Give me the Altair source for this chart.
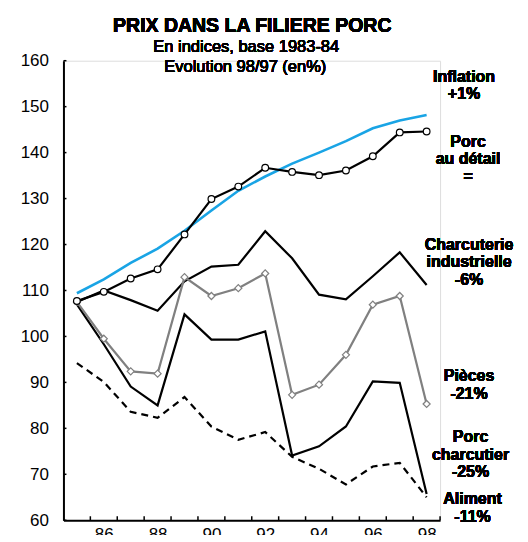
import altair as alt
import pandas as pd

# ---------------- data ----------------
years = list(range(85, 99))
inflation = [109.4, 112.4, 116.0, 119.1, 123.0, 127.4, 131.7, 134.8, 137.6, 140.0, 142.5, 145.3, 147.0, 148.2]
porc_detail = [107.7, 109.7, 112.6, 114.6, 122.2, 129.9, 132.6, 136.7, 135.8, 135.1, 136.1, 139.2, 144.4, 144.6]
charcuterie = [107.5, 110.0, 107.9, 105.6, 112.0, 115.2, 115.6, 122.9, 117.0, 109.1, 108.1, 113.1, 118.3, 111.2]
pieces = [107.5, 99.5, 92.4, 91.9, 112.9, 108.8, 110.5, 113.7, 87.3, 89.5, 96.0, 106.9, 108.8, 85.3]
porc_charcutier = [107.0, 98.3, 89.1, 85.0, 104.8, 99.3, 99.3, 101.1, 74.1, 76.1, 80.4, 90.2, 89.9, 65.7]
aliment = [94.2, 90.1, 83.6, 82.3, 86.8, 80.4, 77.5, 79.2, 73.8, 71.2, 67.8, 71.7, 72.5, 65.0]

y_ticks = list(range(60, 161, 10))
x_labels = [86, 88, 90, 92, 94, 96, 98]

title = "PRIX DANS LA FILIERE PORC"
subtitle = ["En indices, base 1983-84", "Evolution 98/97 (en%)"]

label_texts = [
    ["Inflation", "+1%"],
    ["Porc", "au détail", "="],
    ["Charcuterie", "industrielle", "-6%"],
    ["Pièces", "-21%"],
    ["Porc", "charcutier", "-25%"],
    ["Aliment", "-11%"],
]

# ---------------- layout / style ----------------
W, H = 377, 460
FONT = "Liberation Sans"
label_pos = [(401, 21), (405, 86), (406, 189), (406, 320.5), (407.5, 381.5), (409.5, 444)]

series_styles = [
    (inflation, "#19A4E5", 2.6, None),
    (charcuterie, "black", 2.2, None),
    (porc_charcutier, "black", 2.2, None),
    (aliment, "black", 2.2, [7, 5]),
    (pieces, "#808080", 2.2, None),
    (porc_detail, "black", 2.2, None),
]

xs = alt.Scale(domain=[84.5, 98.5], nice=False, zero=False)
ys = alt.Scale(domain=[60, 160], nice=False, zero=False)

x_axis = alt.Axis(values=x_labels, format="d", title=None, tickSize=0, labelPadding=6,
                  labelFontSize=17, labelColor="black", domainColor="black",
                  domainWidth=2, grid=False, labelFont=FONT, labelFontWeight="normal")
y_axis = alt.Axis(values=y_ticks, title=None, tickSize=0, labelPadding=15,
                  labelFontSize=17, labelColor="black", domainColor="black",
                  domainWidth=2, grid=False, labelFont=FONT, labelFontWeight="normal")


def X(field):
    return alt.X(field, scale=xs, axis=x_axis)


def Y(field):
    return alt.Y(field, scale=ys, axis=y_axis)


layers = []
for vals, color, sw, dash in series_styles:
    df = pd.DataFrame({"year": years, "value": vals})
    kw = dict(color=color, strokeWidth=sw)
    if dash:
        kw["strokeDash"] = dash
    layers.append(alt.Chart(df).mark_line(**kw).encode(x=X("year:Q"), y=Y("value:Q")))

# markers
df_det = pd.DataFrame({"year": years, "value": porc_detail})
df_pie = pd.DataFrame({"year": years, "value": pieces})
layers.append(alt.Chart(df_pie).mark_point(shape="diamond", filled=True, fill="white",
                                            stroke="#808080", strokeWidth=1.2, size=50, opacity=1)
              .encode(x=X("year:Q"), y=Y("value:Q")))
layers.append(alt.Chart(df_det).mark_point(shape="circle", filled=True, fill="white",
                                            stroke="black", strokeWidth=1.2, size=45, opacity=1)
              .encode(x=X("year:Q"), y=Y("value:Q")))

# inside ticks
df_yt = pd.DataFrame({"value": y_ticks})
layers.append(alt.Chart(df_yt).mark_rule(color="black", strokeWidth=1.5)
              .encode(y=Y("value:Q"), x=alt.value(0), x2=alt.value(3)))
df_xt = pd.DataFrame({"year": [y + 0.5 for y in years]})
layers.append(alt.Chart(df_xt).mark_rule(color="black", strokeWidth=1.5)
              .encode(x=X("year:Q"), y=alt.value(H), y2=alt.value(H - 4)))

# title and subtitle
layers.append(alt.Chart(df_yt).mark_text(text=title, font=FONT, fontSize=19.5, fontWeight="bold",
                                         align="center", baseline="alphabetic", color="black")
              .encode(x=alt.value(189), y=alt.value(-28.5)))
for line, cx, by in zip(subtitle, [183, 182], [-8.3, 11.7]):
    layers.append(alt.Chart(df_yt).mark_text(text=line, font=FONT, fontSize=16.5, fontWeight="normal",
                                             align="center", baseline="alphabetic", color="black")
                  .encode(x=alt.value(cx), y=alt.value(by)))

# right-hand labels
for lines, (px, py) in zip(label_texts, label_pos):
    layers.append(alt.Chart(df_yt).mark_text(font=FONT, fontSize=16, fontWeight="bold",
                                             align="center", baseline="alphabetic",
                                             lineHeight=17.7, color="black")
                  .encode(x=alt.value(px), y=alt.value(py), text=alt.value(lines)))

chart = alt.layer(*layers).properties(
    width=W, height=H,
    autosize=alt.AutoSizeParams(type="none"),
    padding={"left": 55.5, "top": 52.5, "right": 80, "bottom": 14},
    background="white",
).configure_view(strokeWidth=0).configure(font=FONT)

chart.save("out.html", embed_options={"renderer": "svg", "actions": False})
